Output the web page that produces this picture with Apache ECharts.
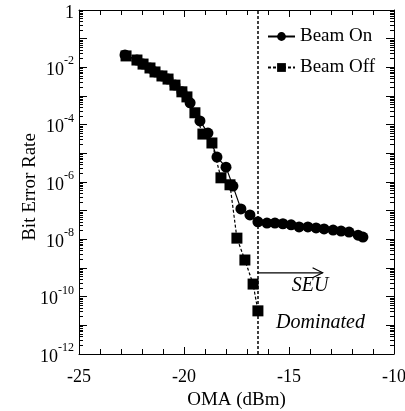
<!DOCTYPE html>
<html><head><meta charset="utf-8">
<script src="https://cdn.jsdelivr.net/npm/echarts@6/dist/echarts.min.js"></script>
<style>html,body{margin:0;padding:0;background:#fff}#c{width:405px;height:411px}</style>
</head><body><div id="c"></div>
<script>
const onX = [-22.81,-22.24,-21.95,-21.62,-21.38,-21.05,-20.76,-20.43,-20.10,-19.71,-19.24,-18.86,-18.43,-18.00,-17.67,-17.29,-16.86,-16.48,-16.05,-15.67,-15.29,-14.90,-14.52,-14.10,-13.71,-13.33,-12.90,-12.52,-12.14,-11.71,-11.48];
const onY = [2.7e-2,1.8e-2,1.3e-2,9.5e-3,6.9e-3,5.0e-3,3.9e-3,2.4e-3,1.4e-3,5.8e-4,1.35e-4,5.1e-5,7.4e-6,3.3e-6,7.2e-7,1.15e-7,7.1e-8,4.1e-8,3.7e-8,3.7e-8,3.5e-8,3.2e-8,2.7e-8,2.7e-8,2.5e-8,2.3e-8,2.1e-8,1.95e-8,1.8e-8,1.4e-8,1.2e-8];
const offX = [-22.76,-22.24,-21.95,-21.62,-21.38,-21.05,-20.76,-20.43,-20.10,-19.86,-19.48,-19.10,-18.67,-18.24,-17.81,-17.48,-17.10,-16.71,-16.48];
const offY = [2.5e-2,1.8e-2,1.3e-2,9.5e-3,6.9e-3,5.0e-3,3.9e-3,2.4e-3,1.4e-3,9.3e-4,2.6e-4,4.7e-5,2.3e-5,1.4e-6,8.0e-7,1.1e-8,1.9e-9,2.75e-10,3.2e-11];
const seriesNames = ['Beam On','Beam Off'];
const xTicks = [-25,-20,-15,-10];
const yExps = [0,-1,-2,-3,-4,-5,-6,-7,-8,-9,-10,-11,-12];
const seuX = -16.5;
const arrowEndX = -13.4;
const arrowY = 6.8e-10;

const FONT = 'Liberation Serif';
const majorY = yExps.map(e => Math.pow(10, e));
const labelY = yExps.filter(e => e % 2 === 0).map(e => Math.pow(10, e));
const minorY = [];
yExps.slice(0, -1).forEach(e => { for (let m = 2; m <= 9; m++) minorY.push(m * Math.pow(10, e - 1)); });

function yFmt(v) {
  const e = Math.round(Math.log10(v));
  if (e === 0) return '{b|1}';
  return '{b|10}{s|' + e + '}';
}

const chart = echarts.init(document.getElementById('c'));
const yBase = { type: 'log', logBase: 10, min: 1e-12, max: 1, splitLine: { show: false } };
function yAxisDef(pos, ticks, len, labels, line) {
  return Object.assign({}, yBase, {
    position: pos,
    axisLine: { show: line, lineStyle: { color: '#000', width: 1 } },
    axisTick: { show: true, inside: true, length: len, customValues: ticks, lineStyle: { color: '#000', width: 1 } },
    axisLabel: labels ? {
      show: true, customValues: labelY, formatter: yFmt, margin: 5, color: '#000',
      rich: {
        b: { fontFamily: FONT, fontSize: 18, color: '#000', verticalAlign: 'bottom', lineHeight: 24 },
        s: { fontFamily: FONT, fontSize: 12, color: '#000', verticalAlign: 'top', lineHeight: 24 }
      }
    } : { show: false }
  });
}
const xBase = { type: 'value', min: -25, max: -10, interval: 5, splitLine: { show: false } };
function xAxisDef(pos, labels) {
  return Object.assign({}, xBase, {
    position: pos,
    name: labels ? 'OMA (dBm)' : '',
    nameLocation: 'middle', nameGap: 35,
    nameTextStyle: { fontFamily: FONT, fontSize: 19, color: '#000' },
    axisLine: { show: true, lineStyle: { color: '#000', width: 1 } },
    axisTick: { show: true, inside: true, length: 7, lineStyle: { color: '#000' } },
    minorTick: { show: true, splitNumber: 5, length: 5, lineStyle: { color: '#000' } },
    axisLabel: labels ? { show: true, fontFamily: FONT, fontSize: 18, color: '#000', margin: 14, customValues: xTicks } : { show: false }
  });
}

chart.setOption({
  animation: false,
  backgroundColor: '#fff',
  grid: { left: 79, right: 11, top: 10, bottom: 57, containLabel: false, outerBoundsMode: 'none' },
  xAxis: [xAxisDef('bottom', true), xAxisDef('top', false)],
  yAxis: [
    yAxisDef('left', majorY, 8, true, true),
    yAxisDef('left', minorY, 4, false, false),
    yAxisDef('right', majorY, 8, false, true),
    yAxisDef('right', minorY, 4, false, false)
  ],
  legend: {
    data: seriesNames, orient: 'vertical', left: 262, top: 22, itemGap: 12,
    itemWidth: 27, itemHeight: 11,
    textStyle: { fontFamily: FONT, fontSize: 19, color: '#000' }
  },
  series: [
    {
      name: seriesNames[0], type: 'line', xAxisIndex: 0, yAxisIndex: 0,
      data: onX.map((x, i) => [x, onY[i]]),
      symbol: 'circle', symbolSize: 11,
      itemStyle: { color: '#000' },
      lineStyle: { color: '#000', width: 1.2 },
      markLine: {
        silent: true, symbol: ['none', 'none'], label: { show: false },
        lineStyle: { color: '#000', type: [3, 2], width: 1.5 },
        data: [{ xAxis: seuX }]
      }
    },
    {
      name: seriesNames[1], type: 'line', xAxisIndex: 0, yAxisIndex: 0,
      data: offX.map((x, i) => [x, offY[i]]),
      symbol: 'rect', symbolSize: 11,
      itemStyle: { color: '#000' },
      lineStyle: { color: '#000', width: 1.2, type: [3, 2] }
    }
  ]
});

// annotations positioned via the chart's own scales
const p0 = chart.convertToPixel({ xAxisIndex: 0, yAxisIndex: 0 }, [seuX, arrowY]);
const p1 = chart.convertToPixel({ xAxisIndex: 0, yAxisIndex: 0 }, [arrowEndX, arrowY]);
const t1 = chart.convertToPixel({ xAxisIndex: 0, yAxisIndex: 0 }, [-14.0, Math.pow(10, -9.62)]);
const t2 = chart.convertToPixel({ xAxisIndex: 0, yAxisIndex: 0 }, [-13.5, Math.pow(10, -10.92)]);
chart.setOption({
  graphic: [
    { type: 'text', x: 30, y: 187, rotation: Math.PI / 2,
      style: { text: 'Bit Error Rate', font: '19px "Liberation Serif"', fill: '#000', align: 'center', verticalAlign: 'middle' } },
    { type: 'line', shape: { x1: p0[0], y1: p0[1], x2: p1[0], y2: p1[1] }, style: { stroke: '#000', lineWidth: 1.2 } },
    { type: 'polyline', shape: { points: [[p1[0] - 10, p1[1] - 5], [p1[0], p1[1]], [p1[0] - 10, p1[1] + 5]] }, style: { stroke: '#000', lineWidth: 1.2, fill: null } },
    { type: 'text', x: t1[0], y: t1[1], style: { text: 'SEU', font: 'italic 20px "Liberation Serif"', fill: '#000', align: 'center', verticalAlign: 'middle' } },
    { type: 'text', x: t2[0], y: t2[1], style: { text: 'Dominated', font: 'italic 20px "Liberation Serif"', fill: '#000', align: 'center', verticalAlign: 'middle' } }
  ]
});
</script></body></html>
